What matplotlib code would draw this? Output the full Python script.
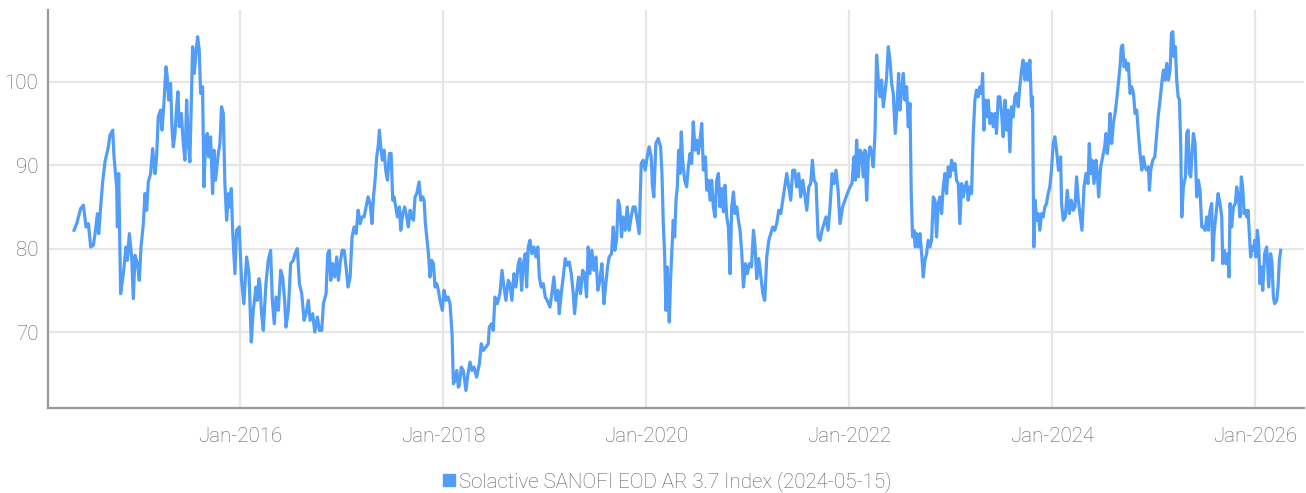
import matplotlib
matplotlib.use("Agg")
import matplotlib.pyplot as plt
import matplotlib.dates as mdates
from matplotlib import font_manager
from matplotlib.lines import Line2D
import pandas as pd

# ---------------- data (decimal year, index level) ----------------
years = [
 2014.365,2014.391,2014.430,2014.457,2014.483,2014.506,2014.529,2014.555,2014.572,2014.595,
 2014.608,2014.627,2014.647,2014.670,2014.703,2014.719,2014.746,2014.759,2014.785,2014.792,
 2014.805,2014.824,2014.851,2014.877,2014.890,2014.910,2014.933,2014.949,2014.966,2014.989,
 2015.008,2015.025,2015.048,2015.064,2015.081,2015.097,2015.120,2015.140,2015.163,2015.179,
 2015.195,2015.218,2015.232,2015.251,2015.271,2015.284,2015.297,2015.317,2015.330,2015.343,
 2015.360,2015.376,2015.389,2015.402,2015.422,2015.442,2015.458,2015.475,2015.491,2015.507,
 2015.534,2015.550,2015.567,2015.583,2015.599,2015.613,2015.632,2015.645,2015.662,2015.678,
 2015.691,2015.711,2015.731,2015.744,2015.760,2015.787,2015.803,2015.819,2015.836,2015.852,
 2015.869,2015.888,2015.901,2015.915,2015.928,2015.951,2015.967,2015.993,2016.016,2016.039,
 2016.066,2016.089,2016.112,2016.131,2016.158,2016.171,2016.187,
 2016.197,2016.213,2016.230,2016.256,2016.279,2016.302,2016.319,2016.338,2016.355,2016.378,
 2016.401,2016.420,2016.440,2016.453,2016.476,2016.499,2016.525,2016.542,2016.565,2016.585,
 2016.608,2016.631,2016.650,2016.673,2016.690,2016.716,2016.736,2016.762,2016.782,2016.805,
 2016.821,2016.847,2016.864,2016.880,2016.893,2016.913,2016.933,2016.952,2016.969,2016.985,
 2017.005,2017.025,2017.044,2017.064,2017.084,2017.103,2017.123,2017.143,2017.163,2017.182,
 2017.202,2017.222,2017.241,2017.261,2017.281,2017.300,2017.314,2017.330,2017.346,2017.360,
 2017.373,2017.386,2017.402,2017.419,2017.435,2017.452,2017.471,2017.488,2017.504,2017.517,
 2017.534,2017.550,2017.570,2017.583,2017.603,2017.622,2017.642,2017.658,2017.675,2017.691,
 2017.708,2017.724,2017.741,2017.764,2017.780,2017.800,2017.813,2017.826,2017.839,2017.856,
 2017.872,2017.888,2017.905,2017.921,2017.938,2017.954,2017.970,2017.993,2018.010,2018.030,
 2018.049,2018.069,2018.089,2018.102,2018.118,2018.135,2018.151,
 2018.160,2018.180,2018.200,2018.226,2018.246,2018.266,2018.285,2018.305,2018.331,2018.358,
 2018.377,2018.397,2018.423,2018.446,2018.456,2018.479,2018.495,2018.512,2018.535,2018.561,
 2018.581,2018.601,2018.620,2018.643,2018.660,2018.679,2018.699,2018.719,2018.742,2018.758,
 2018.775,2018.791,2018.811,2018.824,2018.840,2018.857,2018.876,2018.896,2018.916,2018.935,
 2018.949,2018.968,2018.988,2019.008,2019.027,2019.054,2019.073,2019.093,2019.113,2019.133,
 2019.146,2019.165,2019.185,2019.205,2019.224,2019.244,2019.264,2019.284,2019.297,2019.316,
 2019.336,2019.356,2019.376,2019.395,2019.415,2019.431,2019.448,2019.467,2019.487,2019.507,
 2019.527,2019.546,2019.566,2019.586,2019.605,2019.622,2019.638,2019.661,2019.678,2019.694,
 2019.711,2019.727,2019.743,2019.760,2019.776,2019.796,2019.816,2019.835,2019.855,2019.875,
 2019.894,2019.914,2019.934,2019.954,2019.973,2019.993,2020.013,2020.032,2020.052,2020.065,
 2020.078,2020.098,2020.121,
 2020.145,2020.158,2020.171,2020.184,2020.197,2020.210,2020.230,2020.243,2020.256,2020.269,
 2020.283,2020.296,2020.309,2020.322,2020.335,2020.348,2020.361,2020.381,2020.401,2020.417,
 2020.434,2020.450,2020.466,2020.483,2020.499,2020.516,2020.532,2020.549,2020.565,2020.585,
 2020.598,2020.614,2020.631,2020.647,2020.663,2020.680,2020.696,2020.713,2020.729,2020.746,
 2020.762,2020.778,2020.795,2020.811,2020.828,2020.844,2020.861,2020.877,2020.893,2020.910,
 2020.926,2020.943,2020.959,2020.979,2020.998,2021.018,2021.038,2021.058,2021.074,2021.090,
 2021.110,2021.130,2021.150,2021.169,2021.189,2021.209,2021.228,2021.248,2021.268,2021.287,
 2021.307,2021.327,2021.347,2021.366,2021.386,2021.406,2021.425,2021.445,2021.465,2021.484,
 2021.504,2021.524,2021.544,2021.563,2021.583,2021.603,2021.622,2021.639,2021.655,2021.675,
 2021.695,2021.714,2021.734,2021.754,2021.773,2021.793,2021.813,2021.833,2021.852,2021.872,
 2021.892,2021.911,
 2021.937,2021.960,2021.983,2022.010,2022.029,2022.049,2022.062,2022.075,2022.092,2022.108,
 2022.124,2022.141,2022.157,2022.174,2022.190,2022.207,2022.223,2022.239,2022.256,2022.272,
 2022.289,2022.305,2022.321,2022.338,2022.354,2022.371,2022.387,2022.404,2022.420,2022.436,
 2022.456,2022.476,2022.489,2022.502,2022.519,2022.535,2022.551,2022.568,2022.584,2022.601,
 2022.614,2022.627,2022.640,2022.653,2022.666,2022.683,2022.699,2022.716,2022.732,2022.748,
 2022.765,2022.781,2022.798,2022.814,2022.831,2022.847,2022.863,2022.880,2022.896,2022.913,
 2022.929,2022.945,2022.962,2022.978,2022.995,2023.011,2023.028,2023.044,2023.060,2023.077,
 2023.093,2023.110,2023.126,2023.142,2023.159,2023.175,2023.192,2023.208,2023.225,2023.241,
 2023.257,2023.274,2023.290,2023.307,2023.317,2023.330,2023.343,2023.356,2023.372,2023.389,
 2023.405,2023.422,2023.438,2023.454,2023.471,2023.487,2023.504,2023.520,2023.537,2023.553,
 2023.569,2023.586,2023.602,2023.619,2023.635,2023.651,2023.668,2023.684,2023.701,2023.717,
 2023.734,2023.750,2023.766,2023.783,2023.799,2023.809,2023.822,2023.835,2023.849,2023.865,
 2023.881,2023.898,2023.914,2023.931,2023.947,2023.963,2023.980,2023.996,2024.013,2024.029,
 2024.046,2024.065,
 2024.072,2024.086,2024.095,2024.112,2024.132,2024.151,2024.171,2024.191,2024.210,2024.227,
 2024.243,2024.260,2024.276,2024.296,2024.316,2024.335,2024.355,2024.368,2024.381,2024.394,
 2024.414,2024.434,2024.447,2024.460,2024.480,2024.499,2024.519,2024.532,2024.545,2024.559,
 2024.572,2024.588,2024.604,2024.621,2024.637,2024.654,2024.670,2024.683,2024.696,2024.710,
 2024.723,2024.736,2024.752,2024.769,2024.785,2024.802,2024.818,2024.834,2024.851,2024.867,
 2024.884,2024.900,2024.916,2024.933,2024.949,2024.959,2024.972,2024.992,2025.012,2025.031,
 2025.048,2025.064,2025.084,2025.097,2025.113,2025.130,2025.146,2025.163,2025.176,2025.189,
 2025.202,2025.215,2025.228,2025.242,2025.255,2025.268,2025.278,2025.294,2025.314,2025.327,
 2025.340,2025.353,2025.366,2025.379,2025.393,2025.409,2025.425,2025.442,2025.458,2025.475,
 2025.491,2025.508,2025.524,2025.540,2025.557,2025.573,2025.583,2025.596,2025.616,2025.636,
 2025.655,2025.672,2025.682,2025.698,2025.714,2025.731,2025.744,2025.754,2025.770,2025.787,
 2025.806,2025.819,2025.836,2025.852,2025.865,2025.879,2025.892,2025.905,2025.918,2025.931,
 2025.944,2025.957,2025.971,2025.984,2025.997,2026.010,2026.023,2026.036,2026.049,2026.062,
 2026.076,2026.095,2026.115,2026.135,2026.154,2026.168,2026.181,2026.194,2026.214,2026.227,
 2026.240,2026.253,
]

values = [
 82.2,83.0,84.8,85.2,82.6,83.0,80.2,80.4,81.8,84.2,
 81.8,85.0,88.0,90.4,92.2,93.6,94.2,91.0,87.4,82.6,
 89.0,74.6,77.0,80.2,78.6,81.8,79.0,74.0,79.2,78.2,
 76.2,80.2,83.0,86.6,84.6,88.0,89.0,92.0,89.0,91.0,
 95.8,96.6,94.2,97.4,101.8,100.6,97.8,99.8,94.6,92.2,
 93.8,97.0,98.8,94.6,96.2,92.6,90.6,97.8,92.6,90.4,
 104.2,101.0,103.4,105.4,103.8,98.6,99.4,87.4,93.0,93.8,
 91.0,93.4,86.6,91.8,88.2,91.4,92.6,97.0,96.2,87.8,
 83.4,86.6,85.0,87.2,82.2,77.0,82.2,82.6,76.2,73.4,
 79.0,77.0,68.8,72.6,75.4,73.8,76.4,
 75.8,72.2,70.2,75.8,78.6,79.8,73.8,71.0,74.2,72.6,
 77.4,76.6,73.8,70.6,72.6,78.2,78.6,79.4,80.0,75.8,
 74.6,71.4,72.2,73.8,71.4,72.2,70.0,71.8,70.2,70.2,
 73.4,74.6,79.4,79.8,76.2,78.2,76.6,79.0,76.2,78.2,
 79.8,79.8,77.8,75.4,76.6,81.4,82.6,81.8,84.6,83.0,
 83.8,83.8,85.0,86.2,85.4,83.0,86.2,88.2,91.0,92.2,
 94.2,92.2,90.6,91.8,89.4,88.2,91.4,91.4,85.8,86.2,
 85.0,83.8,85.0,82.2,84.2,85.0,83.8,82.6,84.6,83.8,
 83.4,86.2,86.6,88.0,85.8,86.2,85.8,83.0,81.4,79.4,
 76.6,78.6,78.2,75.4,75.8,75.0,73.8,72.6,75.0,73.8,
 74.2,73.4,69.8,63.8,64.2,65.4,63.4,
 63.6,65.8,65.4,63.0,65.0,66.4,65.4,65.8,64.6,66.2,
 68.6,67.8,68.2,68.6,70.6,71.0,70.2,74.2,73.4,74.6,
 77.4,75.4,73.8,76.2,75.8,73.8,77.0,75.4,78.2,78.8,
 75.0,78.2,79.4,75.4,80.2,81.0,79.4,80.2,79.0,80.2,
 76.6,75.4,75.8,74.2,73.8,73.0,74.6,76.6,73.8,75.0,
 72.2,74.6,76.6,78.8,78.0,78.4,77.0,74.6,72.2,74.6,
 76.6,74.6,77.4,77.0,74.2,80.2,77.0,79.8,77.4,79.0,
 75.0,76.2,78.2,73.4,75.8,77.8,79.0,79.4,82.6,79.8,
 81.0,85.8,85.0,81.4,83.8,82.2,85.0,82.2,83.8,85.0,
 85.0,83.4,81.8,90.2,90.6,89.4,91.0,92.2,91.0,87.4,
 86.2,92.6,93.2,
 92.2,89.0,83.0,79.4,72.6,77.8,71.2,76.4,79.8,83.4,
 81.4,85.8,87.4,91.8,89.0,94.0,90.6,88.2,87.4,89.8,
 91.4,90.2,95.2,91.8,93.0,91.4,93.0,95.0,89.4,91.0,
 87.0,88.2,85.8,88.2,85.0,83.8,88.2,89.0,85.0,87.2,
 84.4,87.6,83.8,82.6,77.0,85.0,86.8,84.2,85.0,83.4,
 82.2,79.4,75.4,78.2,77.0,78.2,77.8,82.2,80.2,76.4,
 78.8,76.8,74.6,73.8,79.0,81.0,81.8,82.6,82.2,83.0,
 84.6,84.2,85.8,87.4,89.0,87.4,85.8,89.4,89.4,87.4,
 89.0,86.2,88.2,86.6,84.6,87.4,87.8,90.6,88.2,87.8,
 81.4,81.0,82.2,83.0,83.8,82.2,85.0,89.0,87.8,89.4,
 87.0,83.0,
 85.0,85.8,86.6,87.4,87.8,91.0,88.2,93.0,88.6,91.8,
 91.4,88.6,91.8,85.8,91.0,92.2,91.4,89.8,93.8,103.2,
 100.2,98.2,100.2,97.0,98.6,100.6,104.2,102.6,99.8,98.6,
 93.8,97.8,101.0,96.6,99.0,101.0,97.8,99.4,94.6,97.4,
 86.2,81.4,82.2,80.2,81.8,80.2,81.8,79.4,76.6,78.6,
 79.4,81.0,80.2,81.0,86.2,85.8,81.4,85.4,86.2,84.2,
 87.4,89.0,86.6,89.8,88.6,90.6,89.4,90.2,88.2,87.8,
 83.0,87.8,86.2,87.4,88.0,85.8,87.4,86.6,93.8,97.8,
 99.0,98.2,99.4,98.6,101.0,94.2,97.8,95.8,97.8,95.0,
 96.2,94.6,96.2,93.8,98.2,98.2,96.2,93.4,97.8,94.2,
 96.6,91.6,97.0,95.8,98.2,98.6,97.0,99.4,101.4,102.6,
 100.2,102.2,100.2,102.6,97.0,98.2,80.2,85.8,83.4,84.2,
 82.2,84.2,83.8,85.0,85.4,86.6,87.4,89.4,92.6,93.4,
 91.8,89.4,
 89.4,91.0,85.4,83.4,83.8,87.0,84.2,85.8,84.6,85.0,
 88.6,85.8,84.2,82.2,87.4,89.0,87.8,92.6,89.0,90.6,
 87.8,90.6,89.0,86.2,89.8,91.0,92.2,93.8,91.4,93.0,
 96.2,92.6,95.0,96.2,97.8,99.8,101.8,104.2,104.4,101.8,
 102.6,101.4,102.2,98.6,99.4,98.6,96.2,96.6,93.8,91.4,
 89.4,91.0,89.8,89.4,89.8,87.0,89.4,90.6,91.0,93.8,
 96.2,97.8,100.2,101.4,100.2,102.2,100.2,101.4,105.8,106.0,
 103.0,104.2,100.2,98.2,97.8,92.2,83.8,87.4,88.6,93.8,
 94.2,89.0,88.6,91.4,93.8,92.6,86.2,88.2,87.0,82.6,
 82.6,82.2,83.8,82.2,84.6,85.4,78.6,81.8,84.2,86.6,
 85.4,83.8,78.2,79.8,78.2,79.4,76.6,85.4,82.6,85.0,
 85.4,87.4,86.2,83.8,88.6,87.4,84.2,84.6,83.8,84.6,
 81.8,79.0,80.2,79.8,81.0,79.0,82.2,80.6,75.8,77.8,
 75.0,79.4,80.2,75.4,79.4,78.2,74.2,73.4,73.8,75.4,
 78.6,79.8,
]

series_name = "Solactive SANOFI EOD AR 3.7 Index (2024-05-15)"
y_ticks = [70, 80, 90, 100]
x_tick_years = [2016, 2018, 2020, 2022, 2024, 2026]


def year_to_ts(y):
    yr = int(y)
    start = pd.Timestamp(yr, 1, 1)
    end = pd.Timestamp(yr + 1, 1, 1)
    return start + (end - start) * (y - yr)


dates = [year_to_ts(y) for y in years]

# ---------------- style ----------------
fam = ["Roboto", "DejaVu Sans"]
fs = 14.8
plt.rcParams["font.family"] = fam
plt.rcParams["font.weight"] = "light"

line_color = "#529df8"
grid_color = "#e6e6e6"
spine_color = "#9a9a9a"
text_color = "#5e5e5e"

fig = plt.figure(figsize=(13.06, 4.93), dpi=100)
ax = fig.add_axes([48 / 1306, 1 - 408 / 493, (1304 - 48) / 1306, (408 - 10) / 493])

ax.plot(dates, values, color=line_color, lw=2.3, solid_joinstyle="round", zorder=3)

ax.set_xlim(year_to_ts(2014.108), year_to_ts(2026.483))
ax.set_ylim(60.9, 108.6)

ax.set_yticks(y_ticks)
ax.set_xticks([pd.Timestamp(y, 1, 1) for y in x_tick_years])
ax.xaxis.set_major_formatter(mdates.DateFormatter("%b-%Y"))

ax.grid(True, color=grid_color, lw=1.6, zorder=0)
ax.set_axisbelow(True)

for s in ["top", "right"]:
    ax.spines[s].set_visible(False)
for s in ["left", "bottom"]:
    ax.spines[s].set_color(spine_color)
    ax.spines[s].set_linewidth(1.6)

ax.tick_params(axis="both", length=0, labelsize=fs, labelcolor=text_color)
ax.tick_params(axis="y", pad=7)
ax.tick_params(axis="x", pad=14)

handle = Line2D([], [], marker="s", linestyle="none", color=line_color,
                markersize=8)
fig.legend([handle], [series_name], loc="center",
           bbox_to_anchor=(0.511, 0.024), frameon=False,
           handlelength=0.6, handletextpad=0.2, borderpad=0,
           prop={"size": fs, "family": fam, "weight": "light"},
           labelcolor=text_color)

fig.savefig("out.png", dpi=100)
